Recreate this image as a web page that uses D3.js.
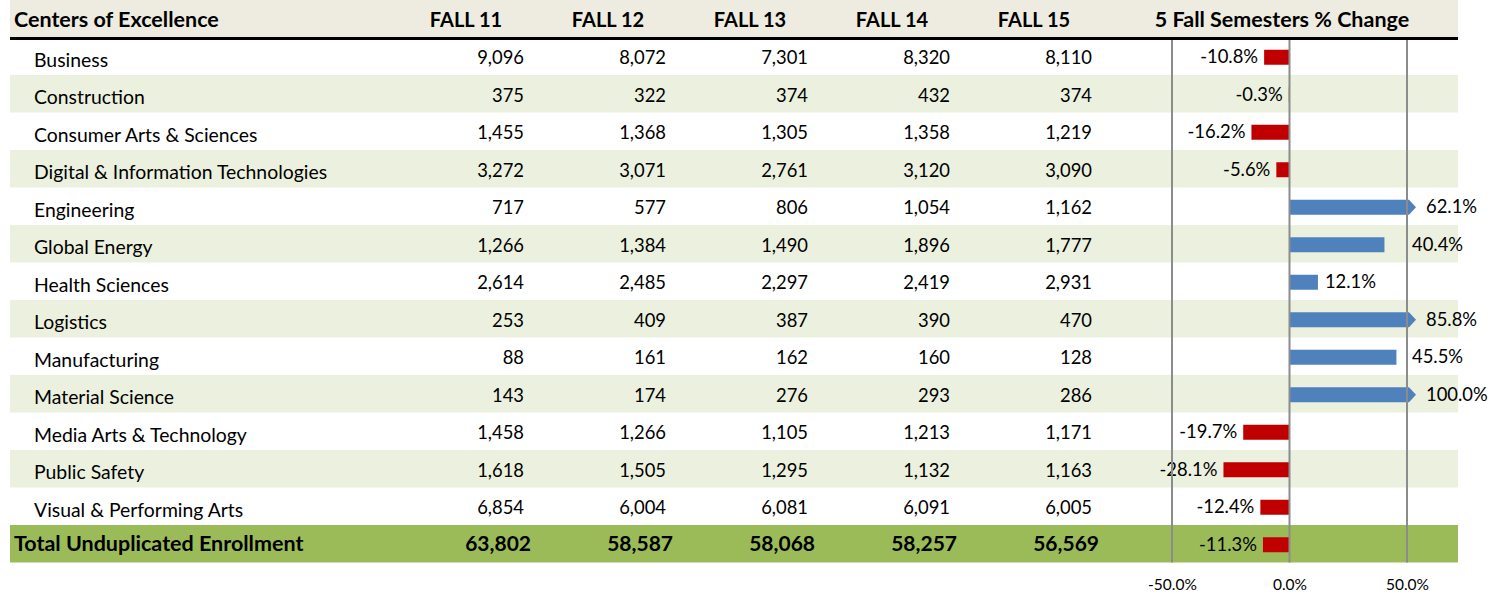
<!DOCTYPE html>
<html>
<head>
<meta charset="utf-8">
<script src="https://cdn.jsdelivr.net/npm/d3@7"></script>
<style>
  body { margin: 0; background: #fff; }
  svg text { font-family: Lato, "Open Sans", sans-serif; fill: #000; }
</style>
</head>
<body>
<script>
const categories = [
  "Business", "Construction", "Consumer Arts & Sciences", "Digital & Information Technologies",
  "Engineering", "Global Energy", "Health Sciences", "Logistics", "Manufacturing",
  "Material Science", "Media Arts & Technology", "Public Safety", "Visual & Performing Arts"
];
const semesters = ["FALL 11", "FALL 12", "FALL 13", "FALL 14", "FALL 15"];
const fall11 = [9096, 375, 1455, 3272, 717, 1266, 2614, 253, 88, 143, 1458, 1618, 6854];
const fall12 = [8072, 322, 1368, 3071, 577, 1384, 2485, 409, 161, 174, 1266, 1505, 6004];
const fall13 = [7301, 374, 1305, 2761, 806, 1490, 2297, 387, 162, 276, 1105, 1295, 6081];
const fall14 = [8320, 432, 1358, 3120, 1054, 1896, 2419, 390, 160, 293, 1213, 1132, 6091];
const fall15 = [8110, 374, 1219, 3090, 1162, 1777, 2931, 470, 128, 286, 1171, 1163, 6005];
const pctChange = [-10.8, -0.3, -16.2, -5.6, 62.1, 40.4, 12.1, 85.8, 45.5, 100.0, -19.7, -28.1, -12.4];
const totalLabel = "Total Unduplicated Enrollment";
const totals = [63802, 58587, 58068, 58257, 56569];
const totalPct = -11.3;
const axisTicks = [-50, 0, 50];

const W = 1493, H = 594;
const left = 10, right = 1458;

const rows = categories.map((c, i) => ({
  name: c,
  values: [fall11[i], fall12[i], fall13[i], fall14[i], fall15[i]],
  pct: pctChange[i],
  total: false
}));
rows.push({ name: totalLabel, values: totals, pct: totalPct, total: true });

const svg = d3.select("body").append("svg")
    .attr("width", W)
    .attr("height", H);

let y = d3.scaleBand().domain(rows.map(d => d.name)).range([37.5, 562.5]);
let colX = d3.scalePoint().domain(semesters).range([524, 1092]);
let x = d3.scaleLinear().domain([-50, 50]).range([1172, 1407]);
let fmt = d3.format(",");

// header band
svg.append("rect")
    .attr("x", left).attr("y", 0)
    .attr("width", right - left).attr("height", 37.5)
    .attr("fill", "#EEECE1");

// row stripes
svg.selectAll(".stripe")
    .data(rows.filter((d, i) => d.total || i % 2 == 1))
    .enter().append("rect")
    .attr("class", "stripe")
    .attr("x", left)
    .attr("y", d => y(d.name))
    .attr("width", right - left)
    .attr("height", y.bandwidth())
    .attr("fill", d => d.total ? "#9BBB59" : "#EBF1DE");

// header texts
svg.append("text")
    .attr("x", 14).attr("y", 26.5)
    .style("font-weight", "bold").style("font-size", "21.5px")
    .text("Centers of Excellence");

svg.selectAll(".colhead")
    .data(semesters)
    .enter().append("text")
    .attr("class", "colhead")
    .attr("x", d => colX(d) - 58)
    .attr("y", 26.5)
    .attr("text-anchor", "middle")
    .style("font-weight", "bold").style("font-size", "20px")
    .text(d => d);

svg.append("text")
    .attr("x", 1282).attr("y", 26.5)
    .attr("text-anchor", "middle")
    .style("font-weight", "bold").style("font-size", "21.5px")
    .text("5 Fall Semesters % Change");

// thick rule under header
svg.append("line")
    .attr("x1", left).attr("x2", right)
    .attr("y1", 38.5).attr("y2", 38.5)
    .attr("stroke", "#000").attr("stroke-width", 3);

// row labels
let rowG = svg.selectAll(".row")
    .data(rows)
    .enter().append("g")
    .attr("class", "row")
    .attr("transform", d => `translate(0, ${y(d.name) + y.bandwidth() / 2})`);

rowG.append("text")
    .attr("x", d => d.total ? 14 : 34)
    .attr("y", d => d.total ? 7.5 : 10.4)
    .style("font-size", d => d.total ? "21.5px" : "19.4px")
    .style("font-weight", d => d.total ? "bold" : "normal")
    .text(d => d.name);

rowG.selectAll(".num")
    .data(d => d.values.map((v, j) => ({ v: v, sem: semesters[j], total: d.total })))
    .enter().append("text")
    .attr("class", "num")
    .attr("x", d => colX(d.sem) + (d.total ? 7 : 0))
    .attr("y", d => d.total ? 7.5 : 7.8)
    .attr("text-anchor", "end")
    .style("font-size", d => d.total ? "21px" : "18.4px")
    .style("font-weight", d => d.total ? "bold" : "normal")
    .text(d => fmt(d.v));

// gridlines
svg.selectAll(".grid")
    .data(axisTicks)
    .enter().append("line")
    .attr("class", "grid")
    .attr("x1", d => x(d)).attr("x2", d => x(d))
    .attr("y1", 40).attr("y2", 562.5)
    .attr("stroke", "#8c8c8c").attr("stroke-width", 2);

// bars
const barH = 15;
const xMax = x.domain()[1];
function barPath(d) {
  let x0 = x(0), top = 1 - barH / 2, bot = 1 + barH / 2, mid = 1;
  if (d.pct > xMax) {
    let xe = x(xMax) + 2;
    return `M${x0},${top}H${xe}L${xe + 7},${mid}L${xe},${bot}H${x0}Z`;
  }
  let xe = x(d.pct);
  return `M${Math.min(x0, xe)},${top}H${Math.max(x0, xe)}V${bot}H${Math.min(x0, xe)}Z`;
}

rowG.append("path")
    .attr("d", barPath)
    .attr("fill", d => d.pct < 0 ? "#C00000" : "#4F81BD");

rowG.append("text")
    .attr("x", d => {
      if (d.pct < 0) return x(d.pct) - 6;
      if (d.pct > xMax) return x(xMax) + 19;
      if (d.pct > 25) return x(xMax) + 5;
      return x(d.pct) + 7;
    })
    .attr("y", 7)
    .attr("text-anchor", d => d.pct < 0 ? "end" : "start")
    .style("font-size", "18.4px")
    .text(d => d.pct.toFixed(1) + "%");

// axis
let axis = svg.append("g")
    .attr("transform", "translate(0, 570)")
    .call(d3.axisBottom(x).tickValues(axisTicks).tickSize(0).tickFormat(d => d.toFixed(1) + "%"));
axis.select(".domain").remove();
axis.selectAll("text")
    .attr("dy", "1.1em")
    .style("font-size", "15.5px")
    .style("font-family", "Lato, sans-serif")
    .attr("fill", "#404040");
</script>
</body>
</html>
